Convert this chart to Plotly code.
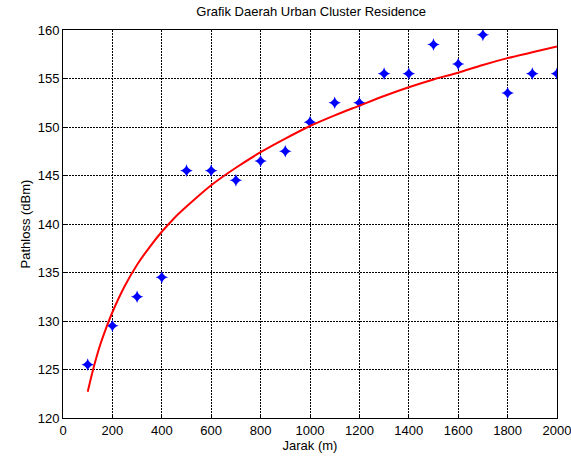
import plotly.graph_objects as go

jarak = [100, 200, 300, 400, 500, 600, 700, 800, 900, 1000,
         1100, 1200, 1300, 1400, 1500, 1600, 1700, 1800, 1900, 2000]
pathloss = [125.5, 129.5, 132.5, 134.5, 145.5, 145.5, 144.5, 146.5, 147.5, 150.5,
            152.5, 152.5, 155.5, 155.5, 158.5, 156.5, 159.5, 153.5, 155.5, 155.5]
fit_x = [100, 125, 150, 175, 200, 250, 300, 350, 400, 450, 500, 600, 700, 800, 900, 1000,
         1100, 1200, 1300, 1400, 1500, 1600, 1700, 1800, 1900, 2000]
fit_y = [122.7, 125.3, 127.5, 129.3, 130.9, 133.6, 135.8, 137.6, 139.2, 140.6, 141.8, 144.0,
         145.8, 147.4, 148.8, 150.1, 151.2, 152.2, 153.2, 154.1, 154.9, 155.6, 156.4,
         157.1, 157.7, 158.3]

fig = go.Figure()
fig.add_trace(go.Scatter(x=jarak, y=pathloss, mode="markers",
                         marker=dict(symbol="star-diamond", size=9, color="#0000ff",
                                     line=dict(width=0)),
                         showlegend=False))
fig.add_trace(go.Scatter(x=fit_x, y=fit_y, mode="lines",
                         line=dict(color="#ff0000", width=2, shape="spline", smoothing=0.8),
                         showlegend=False))

axis_common = dict(showgrid=True, gridcolor="black", griddash="2px,1px", gridwidth=1,
                   showline=True, linecolor="black", linewidth=1, mirror=True,
                   ticks="inside", ticklen=4, tickcolor="black", zeroline=False,
                   ticklabeloverflow="allow", automargin=False,
                   tickfont=dict(size=13, color="black"))
fig.update_xaxes(range=[0, 2000], dtick=200, title=dict(text="Jarak (m)", standoff=2,
                 font=dict(size=13, color="black")), **axis_common)
fig.update_yaxes(range=[120, 160], dtick=5, title=dict(text="Pathloss (dBm)", standoff=4,
                 font=dict(size=13, color="black")), **axis_common)

fig.update_layout(
    width=571, height=461,
    margin=dict(l=63, r=14, t=30, b=43),
    paper_bgcolor="white", plot_bgcolor="white",
    font=dict(family="Liberation Sans, Arial, sans-serif", size=13, color="black"),
    title=dict(text="Grafik Daerah Urban Cluster Residence", x=0.545, xanchor="center",
               y=0.985, yanchor="top", font=dict(size=13, color="black")),
)
fig.write_html("out.html")
